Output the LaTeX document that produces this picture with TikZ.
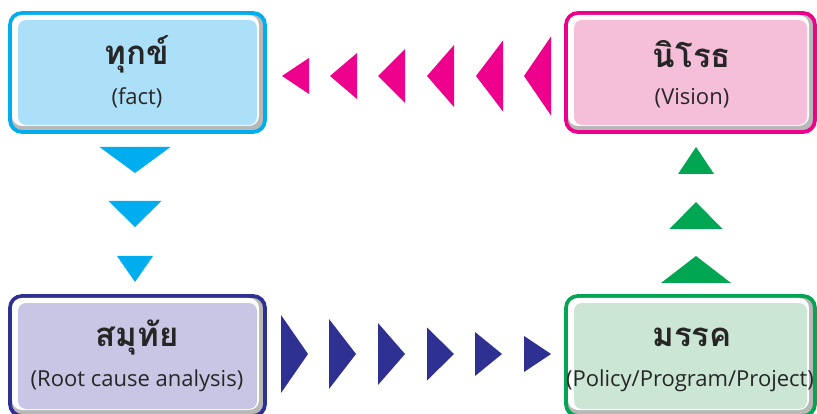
\documentclass[tikz,border=0pt]{standalone}
\usepackage{fontspec}
\newfontfamily\thai[Script=Thai]{Loma}
\newfontfamily\latinsub{Open Sans}
\definecolor{cBlue}{HTML}{00AEEF}
\definecolor{fBlue}{HTML}{ACE0F9}
\definecolor{cPink}{HTML}{EC008C}
\definecolor{fPink}{HTML}{F6BFD9}
\definecolor{cNavy}{HTML}{2E3192}
\definecolor{fNavy}{HTML}{C8C6E4}
\definecolor{cGreen}{HTML}{00A651}
\definecolor{fGreen}{HTML}{CBE6D4}
\newcommand{\bevbox}[6]{%
  \draw[line width=3.8pt,draw=#5,fill=black!28,rounded corners=12pt] (#1,#2) rectangle (#3,#4);
  \fill[white,rounded corners=10pt] (#1+2,#2+2) rectangle (#3-6,#4-6);
  \fill[#6,rounded corners=8pt] (#1+8,#2+7) rectangle (#3-8,#4-7);
}
\tikzset{
  titletext/.style={font=\thai\bfseries\fontsize{33}{36}\selectfont,text=black!85,inner sep=0pt},
  subtext/.style={font=\latinsub\fontsize{22}{26}\selectfont,text=black!85,inner sep=0pt},
}
\begin{document}
\begin{tikzpicture}[x=1pt,y=-1pt]
\useasboundingbox (0,0) rectangle (817,414);
\begin{scope}
\clip (0,0) rectangle (817,414);
\bevbox{10}{13}{265}{132}{cBlue}{fBlue}
\bevbox{566}{13}{815}{132}{cPink}{fPink}
\bevbox{10}{296}{265}{416}{cNavy}{fNavy}
\bevbox{566}{296}{815}{416}{cGreen}{fGreen}
\end{scope}
\node[titletext] (dukkha) at (137,54) {ทุกข์};
\node[subtext] (fact) at (137,98) {(fact)};
\node[titletext] (nirodha) at (692,54) {นิโรธ};
\node[subtext] (vision) at (692,98) {(Vision)};
\node[titletext] (samudaya) at (137,337) {สมุทัย};
\node[subtext] (root) at (137,381) {(Root cause analysis)};
\node[titletext] (magga) at (692,337) {มรรค};
\node[subtext] (policy) at (690,381) {(Policy/Program/Project)};
% pink left triangles
\foreach \t/\h in {282/36,330/46,378/54,427/62,476/71,524/79}
  \fill[cPink] (\t,76) -- (\t+27,76-\h/2) -- (\t+27,76+\h/2) -- cycle;
% navy right triangles
\foreach \b/\h in {281/78,329/70,378/62,427/53,475/44,524/36}
  \fill[cNavy] (\b,354-\h/2) -- (\b+27,354) -- (\b,354+\h/2) -- cycle;
% blue down triangles
\foreach \y/\w in {147/71,201/53,256/36}
  \fill[cBlue] (135-\w/2,\y) -- (135+\w/2,\y) -- (135,\y+26) -- cycle;
% green up triangles
\foreach \y/\w in {147/36,202/53,256/70}
  \fill[cGreen] (696,\y) -- (696+\w/2,\y+27) -- (696-\w/2,\y+27) -- cycle;
\end{tikzpicture}
\end{document}
